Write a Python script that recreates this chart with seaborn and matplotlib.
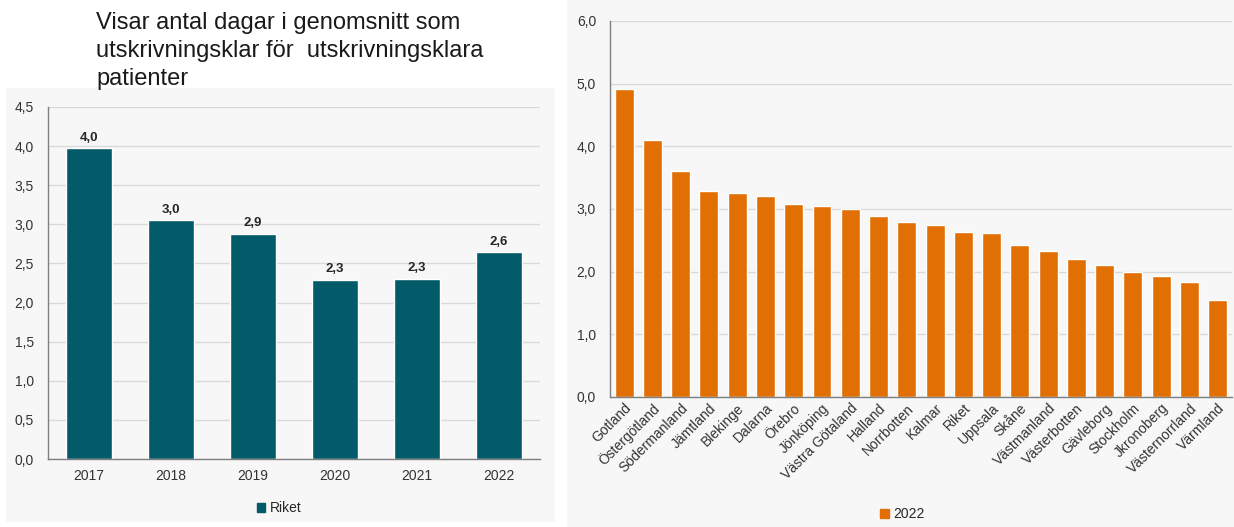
import numpy as np
import pandas as pd
import matplotlib
matplotlib.use('Agg')
import matplotlib.pyplot as plt
import matplotlib.ticker as ticker
from matplotlib.patches import Rectangle
import seaborn as sns

# data
years = ['2017', '2018', '2019', '2020', '2021', '2022']
riket = [3.97, 3.05, 2.88, 2.29, 2.30, 2.64]
riket_labels = ['4,0', '3,0', '2,9', '2,3', '2,3', '2,6']

regions = ['Gotland', 'Östergötland', 'Södermanland', 'Jämtland', 'Blekinge', 'Dalarna',
           'Örebro', 'Jönköping', 'Västra Götaland', 'Halland', 'Norrbotten', 'Kalmar',
           'Riket', 'Uppsala', 'Skåne', 'Västmanland', 'Västerbotten', 'Gävleborg',
           'Stockholm', 'Jkronoberg', 'Västernorrland', 'Värmland']
days_2022 = [4.92, 4.10, 3.61, 3.28, 3.26, 3.20, 3.08, 3.05, 3.00, 2.89, 2.79, 2.74,
             2.63, 2.61, 2.43, 2.33, 2.20, 2.11, 2.00, 1.93, 1.84, 1.55]

title = 'Visar antal dagar i genomsnitt som\nutskrivningsklar för  utskrivningsklara\npatienter'

teal = '#035a68'
orange = '#e26f04'
bg = '#f7f7f7'
grid = '#d9d9d9'
axcol = '#7f7f7f'

sns.set_theme(style='white')
plt.rcParams['font.family'] = ['Liberation Sans', 'DejaVu Sans']

fig = plt.figure(figsize=(12.34, 5.27), dpi=100)
fig.patch.set_facecolor('white')
fig.add_artist(Rectangle((0.005, 0.0095), 0.445, 0.8235, transform=fig.transFigure,
                         facecolor=bg, edgecolor='none', zorder=0))
fig.add_artist(Rectangle((0.4595, 0.0), 0.5405, 1.0, transform=fig.transFigure,
                         facecolor=bg, edgecolor='none', zorder=0))

comma = ticker.FuncFormatter(lambda v, p: f'{v:.1f}'.replace('.', ','))


def style_axes(ax):
    ax.set_facecolor('none')
    for s in ['top', 'right']:
        ax.spines[s].set_visible(False)
    for s in ['left', 'bottom']:
        ax.spines[s].set_color(axcol)
        ax.spines[s].set_linewidth(1)
    ax.yaxis.grid(True, color=grid, linewidth=1)
    ax.set_axisbelow(True)
    ax.tick_params(axis='both', length=0, labelsize=10, colors='#333333')
    ax.yaxis.set_major_formatter(comma)
    ax.set_xlabel('')
    ax.set_ylabel('')


# left chart
ax1 = fig.add_axes([0.0389, 0.129, 0.3987, 0.668])
df1 = pd.DataFrame({'year': years, 'value': riket})
sns.barplot(data=df1, x='year', y='value', color=teal, saturation=1, width=0.57, ax=ax1)
ax1.set_ylim(0, 4.5)
ax1.set_yticks(np.arange(0, 4.51, 0.5))
ax1.set_xlim(-0.5, 5.5)
style_axes(ax1)
for i, (v, lab) in enumerate(zip(riket, riket_labels)):
    ax1.text(i, v + 0.06, lab, ha='center', va='bottom', fontsize=9.5, fontweight='bold', color='#262626')
ax1.tick_params(axis='x', pad=7)
ax1.tick_params(axis='y', pad=10)
ax1.legend(handles=[Rectangle((0, 0), 1, 1, color=teal)], labels=['Riket'],
           loc='upper center', bbox_to_anchor=(0.47, -0.085), frameon=False,
           handlelength=0.6, handleheight=0.6, handletextpad=0.3, fontsize=10)

fig.text(0.078, 0.977, title, ha='left', va='top', fontsize=17, color='#1a1a1a',
         linespacing=1.35)

# right chart
ax2 = fig.add_axes([0.4943, 0.2467, 0.504, 0.7135])
df2 = pd.DataFrame({'region': regions, 'value': days_2022})
sns.barplot(data=df2, x='region', y='value', color=orange, saturation=1, width=0.67, ax=ax2)
ax2.set_ylim(0, 6)
ax2.set_yticks(np.arange(0, 6.01, 1))
ax2.set_xlim(-0.5, len(regions) - 0.5)
style_axes(ax2)
plt.setp(ax2.get_xticklabels(), rotation=45, ha='right', rotation_mode='anchor')
ax2.tick_params(axis='x', pad=3)
ax2.tick_params(axis='y', pad=10)
ax2.legend(handles=[Rectangle((0, 0), 1, 1, color=orange)], labels=['2022'],
           loc='upper center', bbox_to_anchor=(0.47, -0.26), frameon=False,
           handlelength=0.6, handleheight=0.6, handletextpad=0.3, fontsize=10)

fig.savefig('out.png', dpi=100)
